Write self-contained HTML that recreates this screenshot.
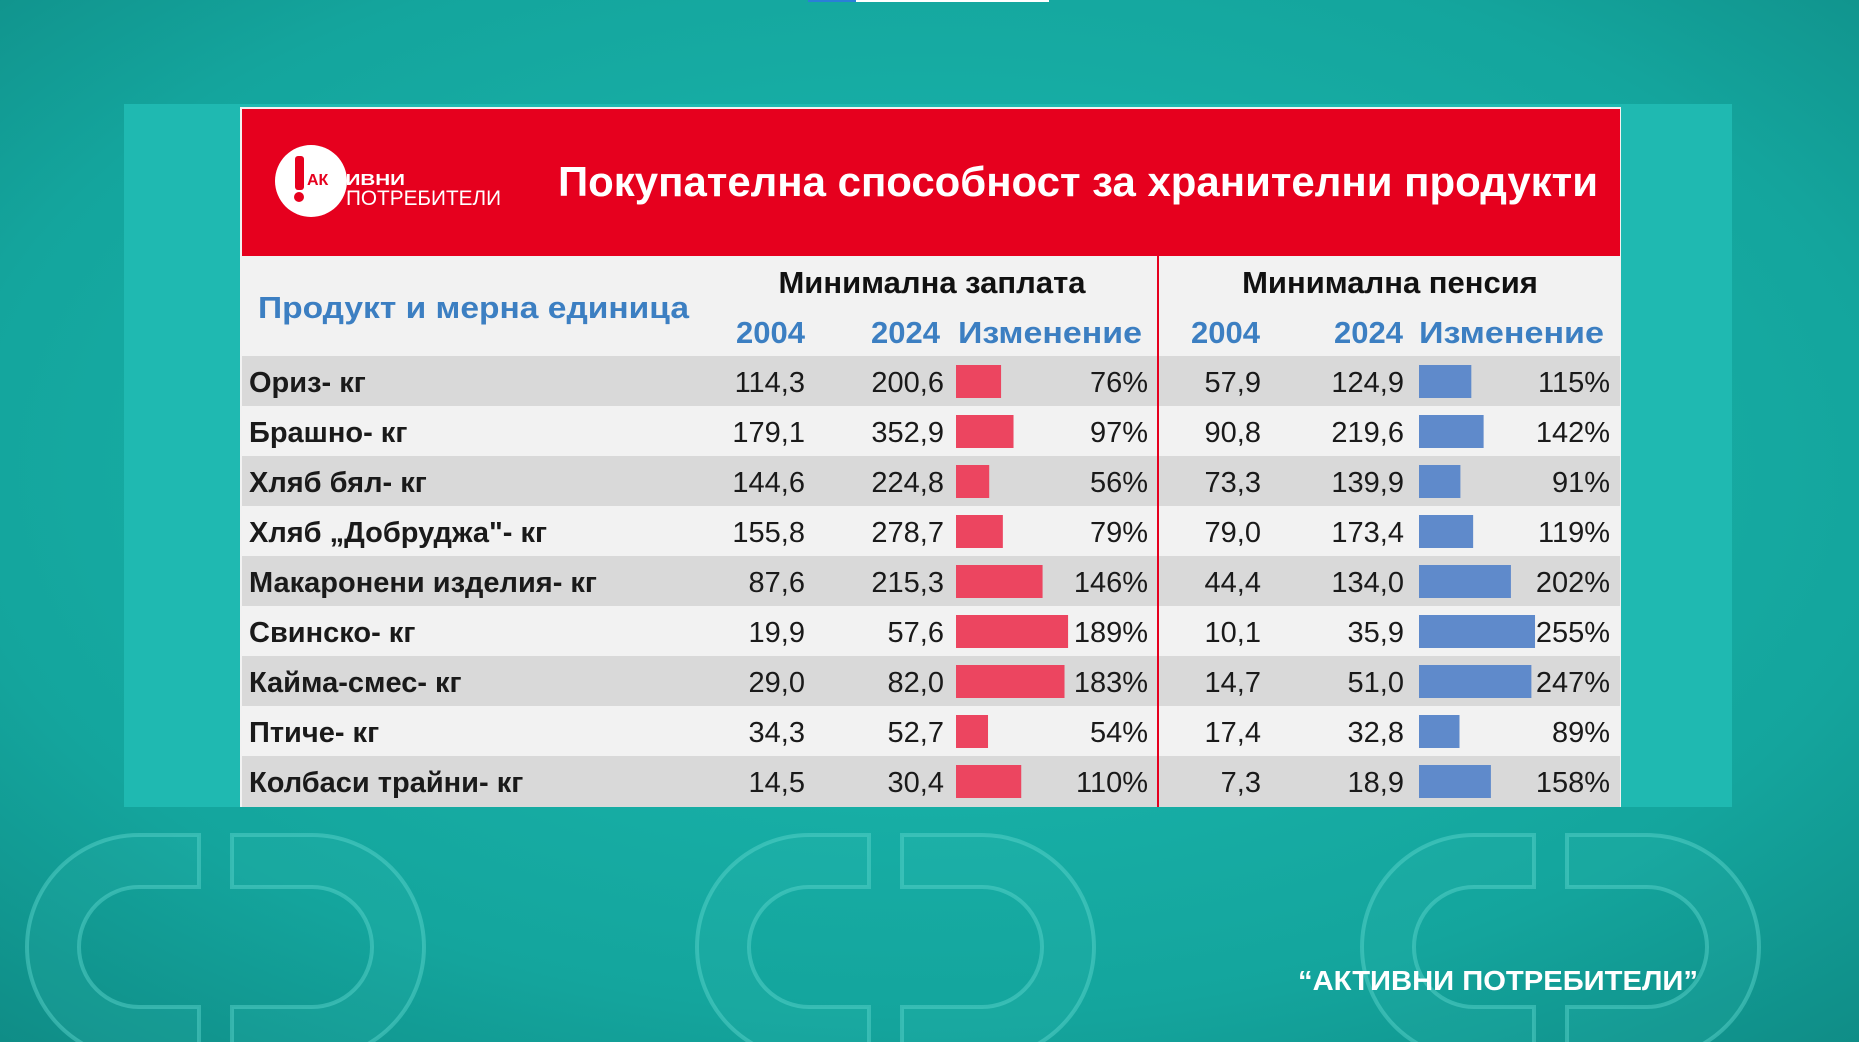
<!DOCTYPE html>
<html><head><meta charset="utf-8"><style>
html,body{margin:0;padding:0;width:1859px;height:1042px;overflow:hidden;background:#15a9a1}
svg{display:block}
text{font-family:"Liberation Sans",sans-serif}
</style></head><body>
<svg width="1859" height="1042" viewBox="0 0 1859 1042" xmlns="http://www.w3.org/2000/svg">
<defs>
<radialGradient id="bg" cx="50%" cy="45%" r="75%">
<stop offset="0" stop-color="#1cbcb2"/><stop offset="0.7" stop-color="#14a59d"/><stop offset="1" stop-color="#0f8c86"/>
</radialGradient>
<g id="wm">
<path d="M199 835 h-60 a112 112 0 0 0 0 224 h60 v-52 h-60 a60 60 0 0 1 0 -120 h60 z"/>
<path d="M232 835 h80 a112 112 0 0 1 0 224 h-80 v-52 h80 a60 60 0 0 0 0 -120 h-80 z"/>
</g>
</defs>
<rect width="1859" height="1042" fill="url(#bg)"/>
<rect x="808" y="0" width="241" height="2" fill="#fff"/><rect x="808" y="0" width="48" height="2" fill="#2a7fd8"/>
<g fill="#3fc9c0" fill-opacity="0.12" stroke="#5fd6ce" stroke-opacity="0.45" stroke-width="4">
<use href="#wm"/><use href="#wm" x="670"/><use href="#wm" x="1335"/>
</g>
<rect x="124" y="104" width="1608" height="703" fill="#1fb9b1"/>
<rect x="240" y="107" width="1381" height="700" fill="#f2f2f2"/>
<rect x="242" y="109" width="1378" height="147" fill="#e6001e"/>
<circle cx="311" cy="181" r="36" fill="#fff"/>
<rect x="295" y="156" width="9" height="34" rx="3" fill="#e6001e"/>
<circle cx="299" cy="197" r="5" fill="#e6001e"/>
<text x="307" y="185" font-size="16" font-weight="bold" fill="#e6001e">АК</text>
<text x="333" y="185" font-size="16" font-weight="bold" fill="#fff" textLength="72" lengthAdjust="spacingAndGlyphs">ТИВНИ</text>
<text x="346" y="205" font-size="21" fill="#fff" textLength="155" lengthAdjust="spacingAndGlyphs">ПОТРЕБИТЕЛИ</text>
<text x="558" y="196" font-size="42" font-weight="bold" fill="#fff" textLength="1040" lengthAdjust="spacingAndGlyphs">Покупателна способност за хранителни продукти</text>
<g fill="#d9d9d9">
<rect x="242" y="356" width="1378" height="50"/><rect x="242" y="456" width="1378" height="50"/>
<rect x="242" y="556" width="1378" height="50"/><rect x="242" y="656" width="1378" height="50"/>
<rect x="242" y="756" width="1378" height="51"/>
</g>
<line x1="1158" y1="256" x2="1158" y2="807" stroke="#e6001e" stroke-width="2"/>
<text x="932" y="293" font-size="31" font-weight="bold" fill="#111" text-anchor="middle">Минимална заплата</text>
<text x="1390" y="293" font-size="31" font-weight="bold" fill="#111" text-anchor="middle">Минимална пенсия</text>
<text x="258" y="318" font-size="31" font-weight="bold" fill="#3c7fc2" textLength="431" lengthAdjust="spacingAndGlyphs">Продукт и мерна единица</text>
<g font-size="31" font-weight="bold" fill="#3c7fc2">
<text x="805" y="343" text-anchor="end">2004</text><text x="940" y="343" text-anchor="end">2024</text>
<text x="958" y="343" textLength="184" lengthAdjust="spacingAndGlyphs">Изменение</text>
<text x="1260" y="343" text-anchor="end">2004</text><text x="1403" y="343" text-anchor="end">2024</text>
<text x="1419" y="343" textLength="185" lengthAdjust="spacingAndGlyphs">Изменение</text>
</g>
<g id="rows" font-size="29" fill="#1a1a1a"></g>
<text x="1298" y="990" font-size="28" font-weight="bold" fill="#fff" textLength="400" lengthAdjust="spacingAndGlyphs">“АКТИВНИ ПОТРЕБИТЕЛИ”</text>
</svg>
<script>
var d=[["Ориз- кг","114,3","200,6",76,"57,9","124,9",115],
["Брашно- кг","179,1","352,9",97,"90,8","219,6",142],
["Хляб бял- кг","144,6","224,8",56,"73,3","139,9",91],
["Хляб „Добруджа\"- кг","155,8","278,7",79,"79,0","173,4",119],
["Макаронени изделия- кг","87,6","215,3",146,"44,4","134,0",202],
["Свинско- кг","19,9","57,6",189,"10,1","35,9",255],
["Кайма-смес- кг","29,0","82,0",183,"14,7","51,0",247],
["Птиче- кг","34,3","52,7",54,"17,4","32,8",89],
["Колбаси трайни- кг","14,5","30,4",110,"7,3","18,9",158]];
var g=document.getElementById('rows'),h='';
d.forEach(function(r,i){var top=356+i*50,b=top+36;
h+='<rect x="956" y="'+(top+9)+'" width="'+(r[3]*0.593)+'" height="33" fill="#ec4560"/>';
h+='<rect x="1419" y="'+(top+9)+'" width="'+(r[6]*0.455)+'" height="33" fill="#5f8acb"/>';
h+='<text x="249" y="'+b+'" font-weight="bold">'+r[0]+'</text>';
h+='<text x="805" y="'+b+'" text-anchor="end">'+r[1]+'</text>';
h+='<text x="944" y="'+b+'" text-anchor="end">'+r[2]+'</text>';
h+='<text x="1148" y="'+b+'" text-anchor="end">'+r[3]+'%</text>';
h+='<text x="1261" y="'+b+'" text-anchor="end">'+r[4]+'</text>';
h+='<text x="1404" y="'+b+'" text-anchor="end">'+r[5]+'</text>';
h+='<text x="1610" y="'+b+'" text-anchor="end">'+r[6]+'%</text>';});
g.innerHTML=h;
</script>
</body></html>
